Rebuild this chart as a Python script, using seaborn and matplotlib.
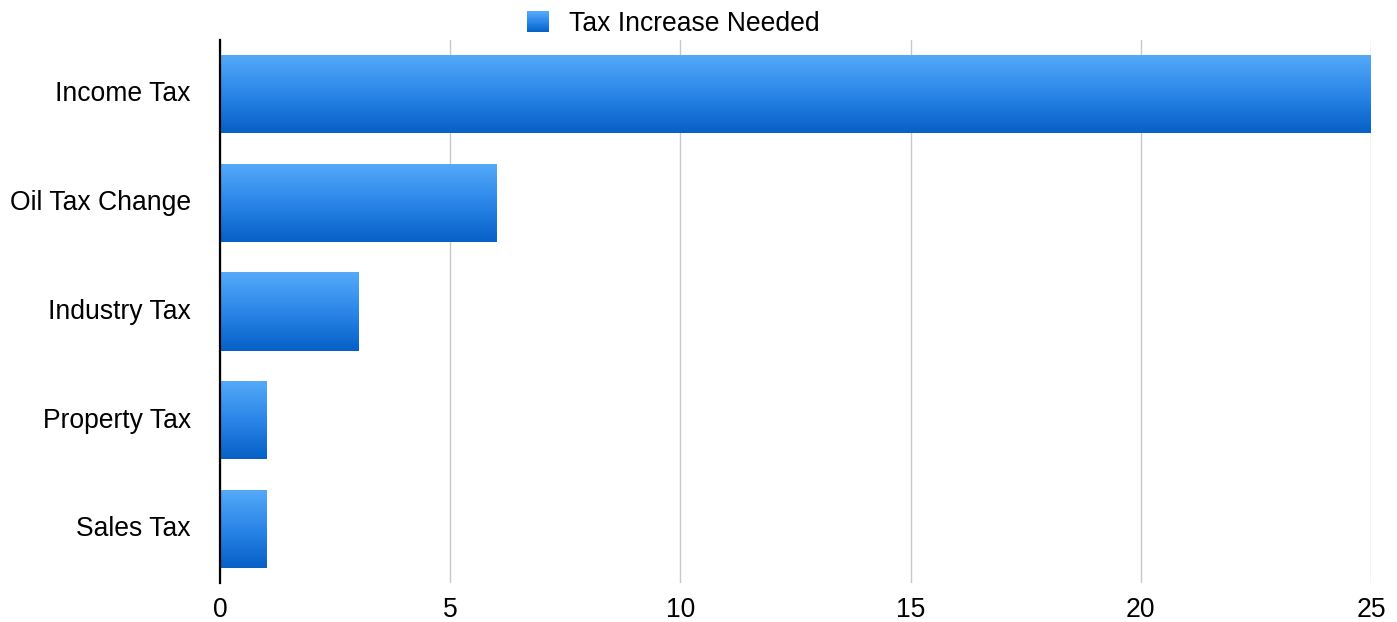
import numpy as np
import pandas as pd
import matplotlib
matplotlib.use("Agg")
import matplotlib.pyplot as plt
import matplotlib.transforms as mtransforms
import seaborn as sns
from matplotlib.colors import LinearSegmentedColormap
from matplotlib.patches import Patch, Rectangle
from matplotlib.legend_handler import HandlerBase

categories = ["Income Tax", "Oil Tax Change", "Industry Tax", "Property Tax", "Sales Tax"]
values = [25, 6, 3, 1, 1]
series_name = "Tax Increase Needed"
x_ticks = [0, 5, 10, 15, 20, 25]

sns.set_theme(style="white")
plt.rcParams["font.family"] = ["Liberation Sans", "DejaVu Sans"]
plt.rcParams["text.color"] = "black"

df = pd.DataFrame({"category": categories, "value": values})

fig = plt.figure(figsize=(13.97, 6.22), dpi=100)
ax = fig.add_axes([0.1575, 0.0621, 0.9814 - 0.1575, 0.9363 - 0.0621])

sns.barplot(data=df, y="category", x="value", orient="h", color="#2f86e6",
            width=0.72, ax=ax, saturation=1)

cmap = LinearSegmentedColormap.from_list("blue", ["#56aaf9", "#2a86e8", "#0660c6"])
grad = np.linspace(0, 1, 256).reshape(-1, 1)
for p in ax.patches:
    bb = p.get_bbox()
    x0, x1 = bb.x0, bb.x1
    y0, y1 = min(bb.y0, bb.y1), max(bb.y0, bb.y1)
    p.set_facecolor("none")
    p.set_edgecolor("none")
    im = ax.imshow(grad, extent=(x0, x1, y1, y0), origin="upper", aspect="auto",
                   cmap=cmap, zorder=3)
    im.set_clip_path(p)

ax.set_xlim(0, 25)
ax.set_ylim(len(categories) - 0.5, -0.5)
ax.set_xticks(x_ticks)
ax.set_xticklabels([str(t) for t in x_ticks])
ax.grid(axis="x", color="#c8c8c8", linewidth=1.0, zorder=0)
ax.set_axisbelow(True)
for s in ["top", "right", "bottom"]:
    ax.spines[s].set_visible(False)
ax.spines["left"].set_color("black")
ax.spines["left"].set_linewidth(1.6)
ax.spines["left"].set_zorder(5)
ax.set_xlabel("")
ax.set_ylabel("")
ax.tick_params(axis="y", length=0, pad=21, labelsize=19.1, labelcolor="black")
ax.tick_params(axis="x", length=0, pad=10, labelsize=19.1, labelcolor="black")

shift = mtransforms.ScaledTranslation(0, 2.5 / 100, fig.dpi_scale_trans)
for lbl in ax.get_yticklabels():
    lbl.set_transform(lbl.get_transform() + shift)


class GradientHandler(HandlerBase):
    def create_artists(self, legend, orig_handle, xdescent, ydescent, width, height,
                       fontsize, trans):
        n = 24
        arts = []
        for i in range(n):
            c = cmap(1 - (i + 0.5) / n)
            r = Rectangle((-xdescent, -ydescent + height * i / n), width, height / n + 0.3,
                          facecolor=c, edgecolor="none", transform=trans)
            arts.append(r)
        return arts


handle = Patch(facecolor="#2f86e6", edgecolor="none")
fig.legend([handle], [series_name], loc="center", bbox_to_anchor=(673 / 1397, 1 - 24 / 622),
           frameon=False, fontsize=19.1, handlelength=0.82, handleheight=0.82,
           handletextpad=0.75, borderaxespad=0, labelcolor="black",
           handler_map={Patch: GradientHandler()})

fig.savefig("out.png", dpi=100)
